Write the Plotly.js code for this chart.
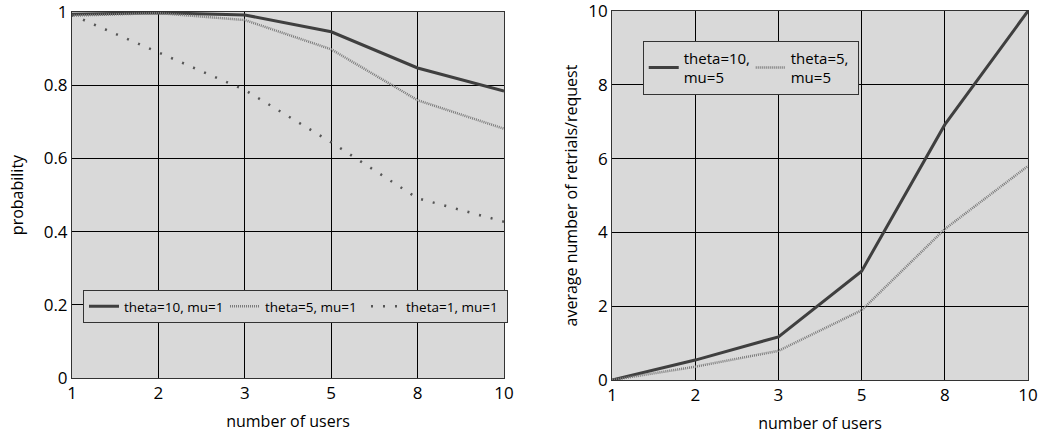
<!DOCTYPE html>
<html><head><meta charset="utf-8">
<script src="https://cdn.plot.ly/plotly-3.0.1.min.js"></script>
<style>body{margin:0;background:#fff}#c{width:1039px;height:434px}</style>
</head><body><div id="c"></div>
<script>
const users = ["1","2","3","5","8","10"];
const probTheta10 = [0.994, 0.998, 0.992, 0.946, 0.847, 0.784];
const probTheta5  = [0.990, 0.997, 0.978, 0.898, 0.759, 0.681];
const probTheta1  = [0.992, 0.889, 0.787, 0.644, 0.491, 0.427];
const retrTheta10 = [0, 0.54, 1.17, 2.95, 6.92, 10.0];
const retrTheta5  = [0, 0.36, 0.79, 1.89, 4.09, 5.8];
const yTicksLeft = [0, 0.2, 0.4, 0.6, 0.8, 1];
const yTicksRight = [0, 2, 4, 6, 8, 10];

const F = "Open Sans, DejaVu Sans, sans-serif";
const solid = {color:'#3f3f3f', width:3};
const hatch = {color:'#7a7a7a', width:2.5, dash:'1px,1px'};
const dots = {color:'#555', width:2.5, dash:'2px,10px'};

const traces = [
 {x:users, y:probTheta10, xaxis:'x', yaxis:'y', mode:'lines', line:solid, name:'theta=10, mu=1', legend:'legend'},
 {x:users, y:probTheta5, xaxis:'x', yaxis:'y', mode:'lines', line:hatch, name:'theta=5, mu=1', legend:'legend'},
 {x:users, y:probTheta1, xaxis:'x', yaxis:'y', mode:'lines', line:dots, name:'theta=1, mu=1', legend:'legend'},
 {x:users, y:retrTheta10, xaxis:'x2', yaxis:'y2', mode:'lines', line:solid, name:'theta=10,<br>mu=5', legend:'legend2'},
 {x:users, y:retrTheta5, xaxis:'x2', yaxis:'y2', mode:'lines', line:hatch, name:'theta=5,<br>mu=5', legend:'legend2'}
];

const axBase = {showline:true, mirror:true, linecolor:'#333', linewidth:1, gridcolor:'#000', gridwidth:1,
  zeroline:false, tickfont:{family:F, size:17, color:'#000'}, ticks:'', fixedrange:true, ticklabeloverflow:'allow'};
const xBase = Object.assign({}, axBase, {type:'category', range:[0,5], tickvals:users, ticktext:users,
  title:{text:'number of users', font:{family:F, size:16, color:'#000'}, standoff:12}});

const layout = {
  width:1039, height:434, margin:{l:72, r:11, t:11, b:54},
  paper_bgcolor:'#fff', plot_bgcolor:'#d9d9d9', showlegend:true,
  font:{family:F, color:'#000'},
  xaxis: Object.assign({}, xBase, {domain:[0, 0.4519], anchor:'y'}),
  xaxis2: Object.assign({}, xBase, {domain:[0.5649, 1], anchor:'y2'}),
  yaxis: Object.assign({}, axBase, {domain:[0.0054, 0.9973], range:[0,1], tickvals:yTicksLeft, anchor:'x',
     title:{text:'probability', font:{family:F, size:16, color:'#000'}, standoff:16}}),
  yaxis2: Object.assign({}, axBase, {domain:[0, 1], range:[0,10], tickvals:yTicksRight, anchor:'x2',
     title:{text:'average number of retrials/request', font:{family:F, size:16, color:'#000'}, standoff:6}}),
  legend:{orientation:'h', x:0.0115, y:0.244, xanchor:'left', yanchor:'top', bgcolor:'#d9d9d9',
     bordercolor:'#333', borderwidth:1, font:{family:F, size:13.5, color:'#000'}, itemwidth:30, entrywidth:96},
  legend2:{orientation:'h', x:0.597, y:0.92, xanchor:'left', yanchor:'top', bgcolor:'#d9d9d9',
     bordercolor:'#333', borderwidth:1, font:{family:F, size:15, color:'#000'}, itemwidth:30, entrywidth:62}
};
Plotly.newPlot('c', traces, layout, {displayModeBar:false, staticPlot:true});
</script></body></html>
